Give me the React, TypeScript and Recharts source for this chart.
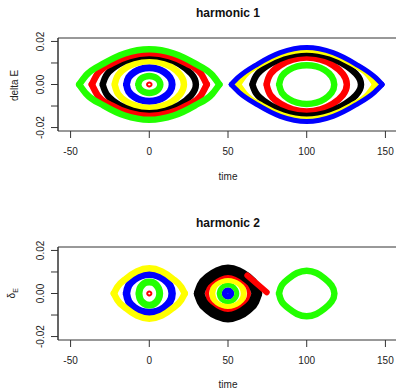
import React from "react";
import { LineChart, Line, XAxis, YAxis, ReferenceArea } from "recharts";

// orbit points, loop order: left tip, upper half, right tip, lower half
const h1RedCore = [[-1.4, 0], [-1.3, 0.0004], [-0.9, 0.0007], [-0.5, 0.00084], [0, 0.0009], [0.5, 0.00084], [0.9, 0.0007], [1.3, 0.0004], [1.4, 0], [1.3, -0.0004], [0.9, -0.0007], [0.5, -0.00084], [0, -0.0009], [-0.5, -0.00084], [-0.9, -0.0007], [-1.3, -0.0004], [-1.4, 0]];
const h1GreenIn = [[-7, 0], [-6.3, 0.0017], [-4.6, 0.003], [-2.5, 0.0037], [0, 0.0039], [2.5, 0.0037], [4.6, 0.003], [6.3, 0.0017], [7, 0], [6.3, -0.0017], [4.6, -0.003], [2.5, -0.0037], [0, -0.0039], [-2.5, -0.0037], [-4.6, -0.003], [-6.3, -0.0017], [-7, 0]];
const h1Blue = [[-14.5, 0], [-13.1, 0.0033], [-9.4, 0.0058], [-5.1, 0.0073], [0, 0.0078], [5.1, 0.0073], [9.4, 0.0058], [13.1, 0.0033], [14.5, 0], [13.1, -0.0033], [9.4, -0.0058], [5.1, -0.0073], [0, -0.0078], [-5.1, -0.0073], [-9.4, -0.0058], [-13.1, -0.0033], [-14.5, 0]];
const h1Yellow = [[-22, 0], [-19.8, 0.0044], [-14.3, 0.008], [-7.7, 0.0101], [0, 0.0109], [7.7, 0.0101], [14.3, 0.008], [19.8, 0.0044], [22, 0], [19.8, -0.0044], [14.3, -0.008], [7.7, -0.0101], [0, -0.0109], [-7.7, -0.0101], [-14.3, -0.008], [-19.8, -0.0044], [-22, 0]];
const h1Black = [[-29.6, 0], [-26.6, 0.005], [-19.2, 0.0094], [-10.4, 0.0122], [0, 0.0133], [10.4, 0.0122], [19.2, 0.0094], [26.6, 0.005], [29.6, 0], [26.6, -0.005], [19.2, -0.0094], [10.4, -0.0122], [0, -0.0133], [-10.4, -0.0122], [-19.2, -0.0094], [-26.6, -0.005], [-29.6, 0]];
const h1Red = [[-36.5, 0], [-32.9, 0.0049], [-23.7, 0.0098], [-12.8, 0.0132], [0, 0.0146], [12.8, 0.0132], [23.7, 0.0098], [32.9, 0.0049], [36.5, 0], [32.9, -0.0049], [23.7, -0.0098], [12.8, -0.0132], [0, -0.0146], [-12.8, -0.0132], [-23.7, -0.0098], [-32.9, -0.0049], [-36.5, 0]];
const h1GreenOut = [[-44.5, 0], [-40.1, 0.0043], [-28.9, 0.0098], [-15.6, 0.0144], [0, 0.0164], [15.6, 0.0144], [28.9, 0.0098], [40.1, 0.0043], [44.5, 0], [40.1, -0.0043], [28.9, -0.0098], [15.6, -0.0144], [0, -0.0164], [-15.6, -0.0144], [-28.9, -0.0098], [-40.1, -0.0043], [-44.5, 0]];

const h1GreenR = [[82.5, 0], [84.2, 0.0038], [88.6, 0.0067], [93.9, 0.0084], [100, 0.009], [106.1, 0.0084], [111.4, 0.0067], [115.8, 0.0038], [117.5, 0], [115.8, -0.0038], [111.4, -0.0067], [106.1, -0.0084], [100, -0.009], [93.9, -0.0084], [88.6, -0.0067], [84.2, -0.0038], [82.5, 0]];
const h1RedR = [[74.5, 0], [77, 0.0049], [83.4, 0.009], [91.1, 0.0115], [100, 0.0125], [108.9, 0.0115], [116.6, 0.009], [123, 0.0049], [125.5, 0], [123, -0.0049], [116.6, -0.009], [108.9, -0.0115], [100, -0.0125], [91.1, -0.0115], [83.4, -0.009], [77, -0.0049], [74.5, 0]];
const h1BlackR = [[65.5, 0], [68.9, 0.0051], [77.6, 0.0099], [87.9, 0.0133], [100, 0.0146], [112.1, 0.0133], [122.4, 0.0099], [131.1, 0.0051], [134.5, 0], [131.1, -0.0051], [122.4, -0.0099], [112.1, -0.0133], [100, -0.0146], [87.9, -0.0133], [77.6, -0.0099], [68.9, -0.0051], [65.5, 0]];
const h1YellowR = [[56.5, 0], [60.8, 0.0044], [71.7, 0.0099], [84.8, 0.0143], [100, 0.0162], [115.2, 0.0143], [128.3, 0.0099], [139.2, 0.0044], [143.5, 0], [139.2, -0.0044], [128.3, -0.0099], [115.2, -0.0143], [100, -0.0162], [84.8, -0.0143], [71.7, -0.0099], [60.8, -0.0044], [56.5, 0]];
const h1BlueR = [[52, 0], [56.8, 0.0035], [68.8, 0.0095], [83.2, 0.0148], [100, 0.0172], [116.8, 0.0148], [131.2, 0.0095], [143.2, 0.0035], [148, 0], [143.2, -0.0035], [131.2, -0.0095], [116.8, -0.0148], [100, -0.0172], [83.2, -0.0148], [68.8, -0.0095], [56.8, -0.0035], [52, 0]];

const h2RedCore = [[-1.3, 0], [-1.2, 0.0004], [-0.8, 0.0007], [-0.5, 0.00084], [0, 0.0009], [0.5, 0.00084], [0.8, 0.0007], [1.2, 0.0004], [1.3, 0], [1.2, -0.0004], [0.8, -0.0007], [0.5, -0.00084], [0, -0.0009], [-0.5, -0.00084], [-0.8, -0.0007], [-1.2, -0.0004], [-1.3, 0]];
const h2Green = [[-6.6, 0], [-5.9, 0.0024], [-4.3, 0.0041], [-2.3, 0.0051], [0, 0.0054], [2.3, 0.0051], [4.3, 0.0041], [5.9, 0.0024], [6.6, 0], [5.9, -0.0024], [4.3, -0.0041], [2.3, -0.0051], [0, -0.0054], [-2.3, -0.0051], [-4.3, -0.0041], [-5.9, -0.0024], [-6.6, 0]];
const h2Blue = [[-14.5, 0], [-13.1, 0.0037], [-9.4, 0.0066], [-5.1, 0.0083], [0, 0.0089], [5.1, 0.0083], [9.4, 0.0066], [13.1, 0.0037], [14.5, 0], [13.1, -0.0037], [9.4, -0.0066], [5.1, -0.0083], [0, -0.0089], [-5.1, -0.0083], [-9.4, -0.0066], [-13.1, -0.0037], [-14.5, 0]];
const h2Yellow = [[-22.5, 0], [-20.3, 0.003], [-14.6, 0.007], [-7.9, 0.0103], [0, 0.0117], [7.9, 0.0103], [14.6, 0.007], [20.3, 0.003], [22.5, 0], [20.3, -0.003], [14.6, -0.007], [7.9, -0.0103], [0, -0.0117], [-7.9, -0.0103], [-14.6, -0.007], [-20.3, -0.003], [-22.5, 0]];

const h2BlueM = [[47.9, 0], [48.1, 0.00065], [48.6, 0.0011], [49.3, 0.0014], [50, 0.0015], [50.7, 0.0014], [51.4, 0.0011], [51.9, 0.00065], [52.1, 0], [51.9, -0.00065], [51.4, -0.0011], [50.7, -0.0014], [50, -0.0015], [49.3, -0.0014], [48.6, -0.0011], [48.1, -0.00065], [47.9, 0]];
const h2GreenM = [[44.4, 0], [45, 0.0017], [46.4, 0.003], [48, 0.0037], [50, 0.004], [52, 0.0037], [53.6, 0.003], [55, 0.0017], [55.6, 0], [55, -0.0017], [53.6, -0.003], [52, -0.0037], [50, -0.004], [48, -0.0037], [46.4, -0.003], [45, -0.0017], [44.4, 0]];
const h2YellowM = [[40, 0], [41, 0.0028], [43.5, 0.0048], [46.5, 0.0059], [50, 0.0063], [53.5, 0.0059], [56.5, 0.0048], [59, 0.0028], [60, 0], [59, -0.0028], [56.5, -0.0048], [53.5, -0.0059], [50, -0.0063], [46.5, -0.0059], [43.5, -0.0048], [41, -0.0028], [40, 0]];
const h2RedM = [[36.6, 0], [37.9, 0.0034], [41.3, 0.006], [45.3, 0.0075], [50, 0.0081], [54.7, 0.0075], [58.7, 0.006], [62.1, 0.0034], [63.4, 0], [62.1, -0.0034], [58.7, -0.006], [54.7, -0.0075], [50, -0.0081], [45.3, -0.0075], [41.3, -0.006], [37.9, -0.0034], [36.6, 0]];
const h2BlackM = [[31.6, 0], [33.4, 0.0036], [38, 0.0073], [43.6, 0.0099], [50, 0.011], [56.4, 0.0099], [62, 0.0073], [66.6, 0.0036], [68.4, 0], [66.6, -0.0036], [62, -0.0073], [56.4, -0.0099], [50, -0.011], [43.6, -0.0099], [38, -0.0073], [33.4, -0.0036], [31.6, 0]];
const h2RedStreak = [[62.3, 0.0084], [74.6, 0.0006]];
const h2GreenR = [[82.4, 0], [84.2, 0.0038], [88.6, 0.007], [93.8, 0.0095], [100, 0.0106], [106.2, 0.0095], [111.4, 0.007], [115.8, 0.0038], [117.6, 0], [115.8, -0.0038], [111.4, -0.007], [106.2, -0.0095], [100, -0.0106], [93.8, -0.0095], [88.6, -0.007], [84.2, -0.0038], [82.4, 0]];

const xTicks = [-50, 0, 50, 100, 150];
const yTicks = [-0.02, -0.01, 0, 0.01, 0.02];
const yLabelled = [-0.02, 0, 0.02];

const RED = "#ff0000";
const GREEN = "#22ff00";
const BLUE = "#0000ff";
const YELLOW = "#ffff00";
const BLACK = "#000000";

const FONT = "'Liberation Sans', Arial, Helvetica, sans-serif";
const XDOM: [number, number] = [-58, 158];
const YDOM: [number, number] = [-0.0216, 0.0216];

type Curve = { pts: number[][]; color: string; w: number; pointed?: boolean; open?: boolean };

const top: Curve[] = [
  { pts: h1RedCore, color: RED, w: 2 },
  { pts: h1GreenIn, color: GREEN, w: 6.5 },
  { pts: h1Blue, color: BLUE, w: 7 },
  { pts: h1Yellow, color: YELLOW, w: 6.5 },
  { pts: h1Black, color: BLACK, w: 6.5 },
  { pts: h1Red, color: RED, w: 6.5, pointed: true },
  { pts: h1GreenOut, color: GREEN, w: 6.5, pointed: true },
  { pts: h1GreenR, color: GREEN, w: 6.5 },
  { pts: h1RedR, color: RED, w: 6.5 },
  { pts: h1BlackR, color: BLACK, w: 6.5 },
  { pts: h1YellowR, color: YELLOW, w: 6, pointed: true },
  { pts: h1BlueR, color: BLUE, w: 5, pointed: true },
];

const bottom: Curve[] = [
  { pts: h2RedCore, color: RED, w: 2 },
  { pts: h2Green, color: GREEN, w: 7 },
  { pts: h2Blue, color: BLUE, w: 7.5 },
  { pts: h2Yellow, color: YELLOW, w: 6.5, pointed: true },
  { pts: h2BlueM, color: BLUE, w: 6 },
  { pts: h2GreenM, color: GREEN, w: 5 },
  { pts: h2YellowM, color: YELLOW, w: 6 },
  { pts: h2RedM, color: RED, w: 4 },
  { pts: h2BlackM, color: BLACK, w: 10.5, pointed: true },
  { pts: h2RedStreak, color: RED, w: 6, open: true },
  { pts: h2GreenR, color: GREEN, w: 6.5 },
];

const toRows = (a: number[][]) => a.map(([x, y]) => ({ x, y }));

function renderCurve(c: Curve, i: number) {
  const common = {
    dataKey: "y",
    stroke: c.color,
    strokeWidth: c.w,
    dot: false,
    activeDot: false,
    isAnimationActive: false,
    strokeLinecap: "round" as const,
    strokeLinejoin: "round" as const,
    legendType: "none" as const,
  };
  if (c.open) {
    return [<Line key={`c${i}`} {...common} type="linear" data={toRows(c.pts)} />];
  }
  if (c.pointed) {
    const upper = c.pts.slice(0, 9);
    const lower = c.pts.slice(8).reverse();
    return [
      <Line key={`u${i}`} {...common} type="monotone" data={toRows(upper)} />,
      <Line key={`l${i}`} {...common} type="monotone" data={toRows(lower)} />,
    ];
  }
  return [<Line key={`c${i}`} {...common} type="natural" data={toRows(c.pts)} />];
}

const xTick = (baseline: number) => (props: any) => (
  <text x={props.x} y={baseline} textAnchor="middle" fontSize={10} fontFamily={FONT} fill="#222">
    {props.payload.value}
  </text>
);

const yTick = (props: any) => {
  const v = props.payload.value;
  if (!yLabelled.some((t) => Math.abs(t - v) < 1e-9)) return <g />;
  const y = props.y;
  return (
    <text x={44} y={y} transform={`rotate(-90 44 ${y})`} textAnchor="middle" fontSize={10} fontFamily={FONT} fill="#222">
      {v.toFixed(2)}
    </text>
  );
};

function Panel({
  curves,
  height,
  marginTop,
  axisHeight,
  title,
  titleY,
  tickY,
  timeY,
  yLab,
}: {
  curves: Curve[];
  height: number;
  marginTop: number;
  axisHeight: number;
  title: string;
  titleY: number;
  tickY: number;
  timeY: number;
  yLab: (props: any) => React.ReactElement;
}) {
  return (
    <LineChart width={400} height={height} margin={{ top: marginTop, right: 2, bottom: 0, left: 0 }}>
      <XAxis
        dataKey="x"
        type="number"
        domain={XDOM}
        allowDataOverflow
        ticks={xTicks}
        interval={0}
        height={axisHeight}
        axisLine={false}
        tickSize={7}
        tickLine={{ stroke: "#333" }}
        tick={xTick(tickY)}
        label={{
          value: "time",
          content: () => (
            <text x={228} y={timeY} textAnchor="middle" fontSize={10} fontFamily={FONT} fill="#222">
              time
            </text>
          ),
        }}
      />
      <YAxis
        type="number"
        domain={YDOM}
        allowDataOverflow
        ticks={yTicks}
        interval={0}
        width={58}
        axisLine={{ stroke: "#333" }}
        tickSize={7}
        tickLine={{ stroke: "#333" }}
        tick={yTick}
        label={{ value: "y", content: yLab }}
      />
      {curves.flatMap((c, i) => renderCurve(c, i))}
      <ReferenceArea
        x1={XDOM[0]}
        x2={XDOM[1]}
        y1={YDOM[0]}
        y2={YDOM[1]}
        fill="none"
        fillOpacity={0}
        stroke="#333"
        strokeWidth={1}
        ifOverflow="visible"
        label={{
          value: title,
          content: () => (
            <text x={228} y={titleY} textAnchor="middle" fontSize={12} fontWeight="bold" fontFamily={FONT} fill="#111">
              {title}
            </text>
          ),
        }}
      />
    </LineChart>
  );
}

export default function App() {
  return (
    <div style={{ position: "absolute", left: 0, top: 0, width: 396, height: 389, overflow: "hidden", background: "#fff" }}>
      <div style={{ position: "absolute", left: 0, top: 0 }}>
        <Panel
          curves={top}
          height={195}
          marginTop={38}
          axisHeight={64}
          title="harmonic 1"
          titleY={17.3}
          tickY={155}
          timeY={180}
          yLab={() => (
            <text x={18} y={85.5} transform="rotate(-90 18 85.5)" textAnchor="middle" fontSize={10} fontFamily={FONT} fill="#222">
              delta E
            </text>
          )}
        />
      </div>
      <div style={{ position: "absolute", left: 0, top: 195 }}>
        <Panel
          curves={bottom}
          height={194}
          marginTop={52}
          axisHeight={49}
          title="harmonic 2"
          titleY={31.7}
          tickY={169}
          timeY={193}
          yLab={() => (
            <text x={15.5} y={98.3} transform="rotate(-90 15.5 98.3)" textAnchor="middle" fontSize={10} fontFamily={FONT} fill="#222">
              δ<tspan fontSize={7} dy={2.8}>E</tspan>
            </text>
          )}
        />
      </div>
    </div>
  );
}
